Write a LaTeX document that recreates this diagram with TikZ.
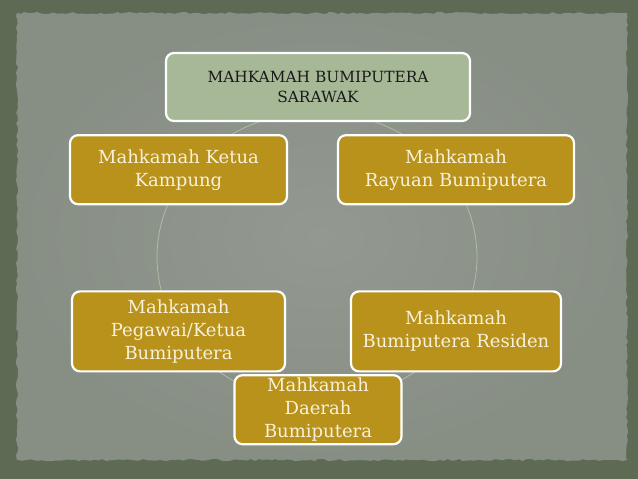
\documentclass[tikz,border=0pt]{standalone}
\usepackage{fontspec}
\setmainfont{DejaVu Serif}
\usetikzlibrary{positioning, backgrounds, decorations.pathmorphing}
\definecolor{courtgold}{HTML}{B8921B}
\definecolor{headsage}{HTML}{A7B897}
\definecolor{cream}{HTML}{F8F1DA}
\definecolor{frameolive}{HTML}{5D6A54}
\definecolor{paper}{HTML}{878E84}
\definecolor{paperlight}{HTML}{939990}
\definecolor{ringline}{HTML}{B0BDA3}
\tikzset{
    head/.style={rectangle, rounded corners=8pt, draw=white, line width=2.2pt, fill=headsage, text=black!90, align=center, font=\fontsize{15.4}{20}\selectfont, minimum width=304pt, minimum height=68pt},
    court/.style={rectangle, rounded corners=8pt, draw=white, line width=2.2pt, fill=courtgold, text=cream, align=center, font=\fontsize{18}{23}\selectfont, minimum height=69pt},
    ring/.style={draw=ringline, line width=0.8pt},
}
\begin{document}
\begin{tikzpicture}[x=1pt, y=1pt]
    \useasboundingbox (0,0) rectangle (638,479);
    \node [head] (sarawak) at (318,392) {MAHKAMAH BUMIPUTERA\\SARAWAK};
    \node [court, minimum width=217pt] (ketua) [below=12pt of sarawak, xshift=-139.5pt] {Mahkamah Ketua\\Kampung};
    \node [court, minimum width=236pt] (rayuan) [below=12pt of sarawak, xshift=138pt] {Mahkamah\\Rayuan Bumiputera};
    \node [court, minimum width=213pt, minimum height=80pt] (pegawai) [below=85pt of ketua] {Mahkamah\\Pegawai/Ketua\\Bumiputera};
    \node [court, minimum width=210pt, minimum height=80pt] (residen) [below=85pt of rayuan] {Mahkamah\\Bumiputera Residen};
    \node [court, minimum width=167pt, inner ysep=1pt] (daerah) [below=252pt of sarawak] {Mahkamah\\Daerah\\Bumiputera};
    \coordinate (hub) at (317,222);
    \begin{scope}[on background layer]
        \fill[frameolive] (0,0) rectangle (638,479);
        \shade[inner color=paperlight, outer color=paper, decorate, decoration={random steps, segment length=4pt, amplitude=1.1pt}] (17,19) rectangle (627,466);
        \draw[ring] (hub) ellipse [x radius=160, y radius=145];
    \end{scope}
\end{tikzpicture}
\end{document}
